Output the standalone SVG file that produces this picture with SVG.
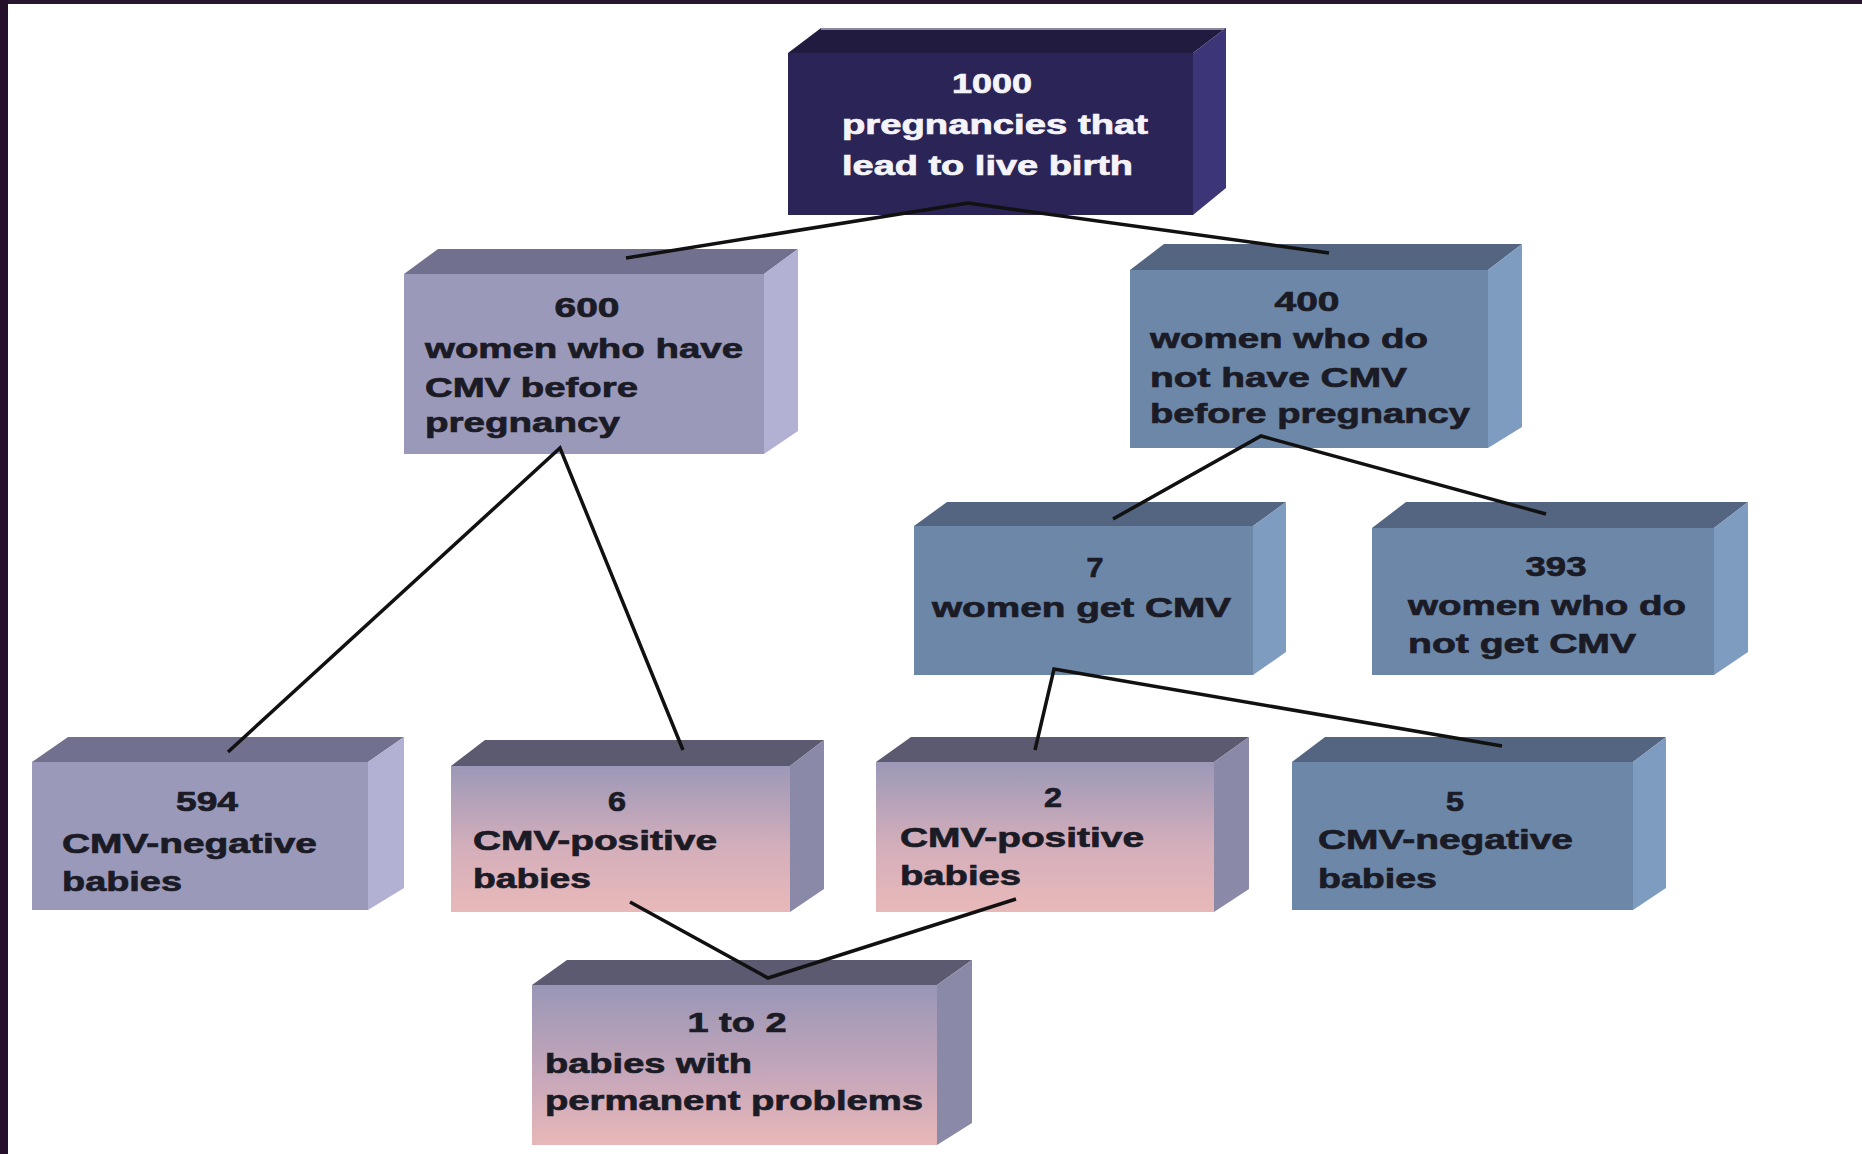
<svg xmlns="http://www.w3.org/2000/svg" width="1862" height="1154" viewBox="0 0 1862 1154">
<defs>
<linearGradient id="pinkG" x1="0" y1="0" x2="0" y2="1">
<stop offset="0" stop-color="#9c98b7"/>
<stop offset="0.55" stop-color="#d3aebb"/>
<stop offset="1" stop-color="#e9b9b9"/>
</linearGradient>
<linearGradient id="pink12" x1="0" y1="0" x2="0" y2="1">
<stop offset="0" stop-color="#9896b6"/>
<stop offset="0.6" stop-color="#c9a8ba"/>
<stop offset="1" stop-color="#e8b8b8"/>
</linearGradient>
<style>
.t{font-family:"Liberation Sans",Arial,sans-serif;font-weight:bold;font-size:27px;fill:#1b1b26;stroke:#1b1b26;stroke-width:0.7px}
.w{fill:#f4f4f8;stroke:#f4f4f8}
.c{text-anchor:middle}
.navy .f{fill:#2b2456}.navy .tp{fill:#211b40}.navy .r{fill:#3c3578}
.lav .f{fill:#9b99b9}.lav .tp{fill:#72708f}.lav .r{fill:#b2b0d3}
.blue .f{fill:#6d87a8}.blue .tp{fill:#536580}.blue .r{fill:#7e9bc0}
.pink .f{fill:url(#pinkG)}.pink .tp{fill:#5c5a71}.pink .r{fill:#8a89a8}
.conn polyline{fill:none;stroke:#111;stroke-width:3.5;stroke-linejoin:miter}
</style>
</defs>
<rect width="1862" height="1154" fill="#ffffff"/>
<rect x="0" y="0" width="1862" height="4" fill="#2a1530"/>
<rect x="0" y="0" width="8" height="1154" fill="#24102a"/>

<g id="n1000" class="navy">
<polygon class="tp" points="788,53 821,28 1226,28 1193,53"/>
<line x1="821" y1="29" x2="1226" y2="29" stroke="#8a88a0" stroke-width="2"/>
<polygon class="r" points="1193,53 1226,28 1226,188 1193,215"/>
<rect class="f" x="788" y="53" width="405" height="162"/>
<text class="t w c" x="992" y="93" textLength="80" lengthAdjust="spacingAndGlyphs">1000</text>
<text class="t w" x="842" y="134" textLength="306" lengthAdjust="spacingAndGlyphs">pregnancies that</text>
<text class="t w" x="842" y="175" textLength="291" lengthAdjust="spacingAndGlyphs">lead to live birth</text>
</g>

<g id="n600" class="lav">
<polygon class="tp" points="404,274 438,249 798,249 764,274"/>
<polygon class="r" points="764,274 798,249 798,431 764,454"/>
<rect class="f" x="404" y="274" width="360" height="180"/>
<text class="t c" x="587" y="317" textLength="65" lengthAdjust="spacingAndGlyphs">600</text>
<text class="t" x="425" y="358" textLength="318" lengthAdjust="spacingAndGlyphs">women who have</text>
<text class="t" x="425" y="397" textLength="213" lengthAdjust="spacingAndGlyphs">CMV before</text>
<text class="t" x="425" y="432" textLength="195" lengthAdjust="spacingAndGlyphs">pregnancy</text>
</g>

<g id="n400" class="blue">
<polygon class="tp" points="1130,270 1164,244 1522,244 1488,270"/>
<polygon class="r" points="1488,270 1522,244 1522,427 1488,448"/>
<rect class="f" x="1130" y="270" width="358" height="178"/>
<text class="t c" x="1307" y="311" textLength="65" lengthAdjust="spacingAndGlyphs">400</text>
<text class="t" x="1150" y="348" textLength="278" lengthAdjust="spacingAndGlyphs">women who do</text>
<text class="t" x="1150" y="387" textLength="257" lengthAdjust="spacingAndGlyphs">not have CMV</text>
<text class="t" x="1150" y="423" textLength="320" lengthAdjust="spacingAndGlyphs">before pregnancy</text>
</g>

<g id="n7" class="blue">
<polygon class="tp" points="914,526 947,502 1286,502 1253,526"/>
<polygon class="r" points="1253,526 1286,502 1286,652 1253,675"/>
<rect class="f" x="914" y="526" width="339" height="149"/>
<text class="t c" x="1095" y="577" textLength="17" lengthAdjust="spacingAndGlyphs">7</text>
<text class="t" x="932" y="617" textLength="299" lengthAdjust="spacingAndGlyphs">women get CMV</text>
</g>

<g id="n393" class="blue">
<polygon class="tp" points="1372,528 1406,502 1748,502 1714,528"/>
<polygon class="r" points="1714,528 1748,502 1748,652 1714,675"/>
<rect class="f" x="1372" y="528" width="342" height="147"/>
<text class="t c" x="1556" y="576" textLength="61" lengthAdjust="spacingAndGlyphs">393</text>
<text class="t" x="1408" y="615" textLength="278" lengthAdjust="spacingAndGlyphs">women who do</text>
<text class="t" x="1408" y="653" textLength="228" lengthAdjust="spacingAndGlyphs">not get CMV</text>
</g>

<g id="n594" class="lav">
<polygon class="tp" points="32,762 68,737 404,737 368,762"/>
<polygon class="r" points="368,762 404,737 404,888 368,910"/>
<rect class="f" x="32" y="762" width="336" height="148"/>
<text class="t c" x="207" y="811" textLength="62" lengthAdjust="spacingAndGlyphs">594</text>
<text class="t" x="62" y="853" textLength="255" lengthAdjust="spacingAndGlyphs">CMV-negative</text>
<text class="t" x="62" y="891" textLength="120" lengthAdjust="spacingAndGlyphs">babies</text>
</g>

<g id="n6" class="pink">
<polygon class="tp" points="451,766 485,740 824,740 790,766"/>
<polygon class="r" points="790,766 824,740 824,889 790,912"/>
<rect class="f" x="451" y="766" width="339" height="146"/>
<text class="t c" x="617" y="811" textLength="18" lengthAdjust="spacingAndGlyphs">6</text>
<text class="t" x="473" y="850" textLength="244" lengthAdjust="spacingAndGlyphs">CMV-positive</text>
<text class="t" x="473" y="888" textLength="118" lengthAdjust="spacingAndGlyphs">babies</text>
</g>

<g id="n2" class="pink">
<polygon class="tp" points="876,762 911,737 1249,737 1214,762"/>
<polygon class="r" points="1214,762 1249,737 1249,889 1214,912"/>
<rect class="f" x="876" y="762" width="338" height="150"/>
<text class="t c" x="1053" y="807" textLength="18" lengthAdjust="spacingAndGlyphs">2</text>
<text class="t" x="900" y="847" textLength="244" lengthAdjust="spacingAndGlyphs">CMV-positive</text>
<text class="t" x="900" y="885" textLength="121" lengthAdjust="spacingAndGlyphs">babies</text>
</g>

<g id="n5" class="blue">
<polygon class="tp" points="1292,762 1325,737 1666,737 1633,762"/>
<polygon class="r" points="1633,762 1666,737 1666,888 1633,910"/>
<rect class="f" x="1292" y="762" width="341" height="148"/>
<text class="t c" x="1455" y="811" textLength="18" lengthAdjust="spacingAndGlyphs">5</text>
<text class="t" x="1318" y="849" textLength="255" lengthAdjust="spacingAndGlyphs">CMV-negative</text>
<text class="t" x="1318" y="888" textLength="119" lengthAdjust="spacingAndGlyphs">babies</text>
</g>

<g id="n1to2" class="pink">
<polygon class="tp" points="532,985 567,960 972,960 937,985"/>
<polygon class="r" points="937,985 972,960 972,1123 937,1145"/>
<rect x="532" y="985" width="405" height="160" fill="url(#pink12)"/>
<text class="t c" x="737" y="1032" textLength="99" lengthAdjust="spacingAndGlyphs">1 to 2</text>
<text class="t" x="545" y="1073" textLength="207" lengthAdjust="spacingAndGlyphs">babies with</text>
<text class="t" x="545" y="1110" textLength="378" lengthAdjust="spacingAndGlyphs">permanent problems</text>
</g>

<g id="connectors" class="conn">
<polyline points="626,258 968,203 1329,253"/>
<polyline points="228,752 560,448 683,750"/>
<polyline points="1113,519 1261,436 1546,514"/>
<polyline points="1035,750 1054,669 1502,746"/>
<polyline points="630,902 768,978 1016,899"/>
</g>
</svg>
